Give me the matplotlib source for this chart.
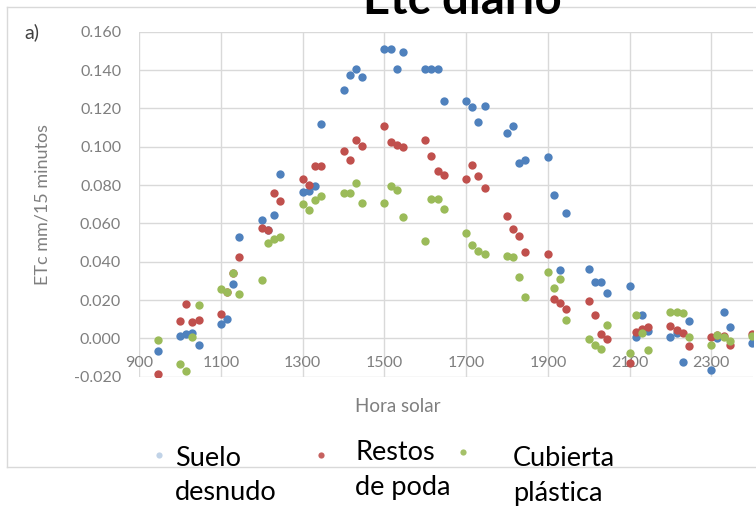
import numpy as np
import matplotlib
matplotlib.use("Agg")
import matplotlib.pyplot as plt
from matplotlib.patches import Rectangle
from matplotlib.ticker import FormatStrFormatter

plt.rcParams['font.family'] = ['Lato', 'DejaVu Sans']

# solar time (HHMM) of each 15-minute reading
hora = [945,
        1000, 1015, 1030, 1045, 1100, 1115, 1130, 1145,
        1200, 1215, 1230, 1245, 1300, 1315, 1330, 1345,
        1400, 1415, 1430, 1445, 1500, 1515, 1530, 1545,
        1600, 1615, 1630, 1645, 1700, 1715, 1730, 1745,
        1800, 1815, 1830, 1845, 1900, 1915, 1930, 1945,
        2000, 2015, 2030, 2045, 2100, 2115, 2130, 2145,
        2200, 2215, 2230, 2245, 2300, 2315, 2330, 2345,
        2400]

suelo_desnudo = [-0.0066,
                 0.0014, 0.0022, 0.0026, -0.0035, 0.0077, 0.0103, 0.0285, 0.0527,
                 0.0618, 0.0565, 0.0644, 0.0858, 0.0766, 0.0770, 0.0795, 0.1120,
                 0.1295, 0.1372, 0.1408, 0.1365, 0.1510, 0.1510, 0.1405, 0.1495,
                 0.1405, 0.1405, 0.1405, 0.1240, 0.1240, 0.1207, 0.1127, 0.1210,
                 0.1072, 0.1110, 0.0915, 0.0930, 0.0946, 0.0747, 0.0358, 0.0656,
                 0.0364, 0.0295, 0.0295, 0.0238, 0.0272, 0.0007, 0.0120, 0.0040,
                 0.0007, 0.0030, -0.0122, 0.0090, -0.0166, 0.0000, 0.0140, 0.0059,
                 -0.0025]

restos_poda = [-0.0185,
               0.0090, 0.0178, 0.0085, 0.0094, 0.0129, 0.0240, 0.0340, 0.0422,
               0.0574, 0.0565, 0.0757, 0.0719, 0.0831, 0.0800, 0.0900, 0.0900,
               0.0975, 0.0932, 0.1037, 0.1005, 0.1106, 0.1023, 0.1010, 0.1000,
               0.1037, 0.0953, 0.0871, 0.0853, 0.0830, 0.0906, 0.0845, 0.0784,
               0.0639, 0.0569, 0.0534, 0.0452, 0.0440, 0.0208, 0.0182, 0.0155,
               0.0195, 0.0120, 0.0025, -0.0002, -0.0130, 0.0033, 0.0050, 0.0059,
               0.0065, 0.0045, 0.0028, -0.0042, 0.0007, 0.0020, 0.0010, -0.0037,
               0.0025]

cubierta_plastica = [-0.0010,
                     -0.0136, -0.0171, 0.0007, 0.0173, 0.0260, 0.0242, 0.0342, 0.0234,
                     0.0307, 0.0500, 0.0517, 0.0530, 0.0700, 0.0670, 0.0722, 0.0743,
                     0.0757, 0.0760, 0.0810, 0.0705, 0.0705, 0.0796, 0.0775, 0.0635,
                     0.0510, 0.0726, 0.0726, 0.0674, 0.0551, 0.0487, 0.0457, 0.0440,
                     0.0429, 0.0422, 0.0318, 0.0216, 0.0347, 0.0265, 0.0312, 0.0098,
                     -0.0002, -0.0037, -0.0054, 0.0072, -0.0077, 0.0120, 0.0030, -0.0063,
                     0.0140, 0.0135, 0.0133, 0.0007, -0.0037, 0.0020, 0.0008, -0.0015,
                     0.0010]

series_names = [["Suelo", "desnudo"], ["Restos", "de poda"], ["Cubierta", "plástica"]]
colors = ["#4F81BD", "#C0504D", "#9BBB59"]
x_ticks = [900, 1100, 1300, 1500, 1700, 1900, 2100, 2300]
y_ticks = [-0.020, 0.000, 0.020, 0.040, 0.060, 0.080, 0.100, 0.120, 0.140, 0.160]

W, H = 756, 509
fig = plt.figure(figsize=(W / 100, H / 100), dpi=100)

# overlay in pixel coordinates for chart border, legend and title
ov = fig.add_axes([0, 0, 1, 1], zorder=5)
ov.set_xlim(0, W)
ov.set_ylim(H, 0)
ov.axis("off")
ov.patch.set_alpha(0)

# plot area
left, right, top, bottom = 139.3, 753, 31.7, 376.7
ax = fig.add_axes([left / W, 1 - bottom / H, (right - left) / W, (bottom - top) / H])
ax.set_axisbelow(True)
for s in ax.spines.values():
    s.set_visible(False)
ax.spines["bottom"].set_position(("data", 0))

for vals, c in zip([suelo_desnudo, restos_poda, cubierta_plastica], colors):
    ax.scatter(hora, vals, s=36, color=c, linewidths=0, zorder=3)

ax.set_xlim(900, 2402)
ax.set_ylim(-0.020, 0.160)
ax.set_xticks(x_ticks)
ax.set_yticks(y_ticks)
ax.yaxis.set_major_formatter(FormatStrFormatter("%.3f"))
ax.grid(True, color="#D9D9D9", linewidth=1)
ax.tick_params(axis="both", length=0, labelsize=11.5, labelcolor="#7F7F7F")
ax.tick_params(axis="y", pad=13)
ax.tick_params(axis="x", pad=13)

ax.set_ylabel("ETc mm/15 minutos", fontsize=13, color="#7F7F7F")
ax.yaxis.set_label_coords((50 - left) / (right - left), 0.5)
ax.set_xlabel("Hora solar", fontsize=13.5, color="#7F7F7F")
ax.xaxis.set_label_coords((398 - left) / (right - left), (bottom - 407) / (bottom - top))
ax.xaxis.label.set_va("center")

# chart-area border (left, top, bottom)
ov.plot([7, 7], [7, 467], color="#D9D9D9", lw=1)
ov.plot([7, W], [7, 7], color="#D9D9D9", lw=1)
ov.plot([7, W], [467, 467], color="#D9D9D9", lw=1)

ov.text(462, 14, "Etc diario", ha="center", va="baseline", fontsize=34,
        fontweight="bold", color="black")
ov.text(24, 32, "a)", ha="left", va="center", fontsize=14, color="#404040")

# pasted legend block
ov.add_patch(Rectangle((157, 437), 516, 80, facecolor="white", edgecolor="none"))
dot_x = [159, 321, 463]
dot_y = [455, 455, 452]
text_x = [175, 355, 513]
line1_y = [459, 452, 459]
line2_y = [492, 487, 493]
for i in range(3):
    ov.scatter([dot_x[i]], [dot_y[i]], s=20, color=colors[i], linewidths=0,
               alpha=0.35 if i == 0 else 0.9)
    ov.text(text_x[i], line1_y[i], series_names[i][0], ha="left", va="center",
            fontsize=19.5, color="black")
    ov.text(text_x[i], line2_y[i], series_names[i][1], ha="left", va="center",
            fontsize=19.5, color="black")

fig.savefig("out.png", dpi=100)
